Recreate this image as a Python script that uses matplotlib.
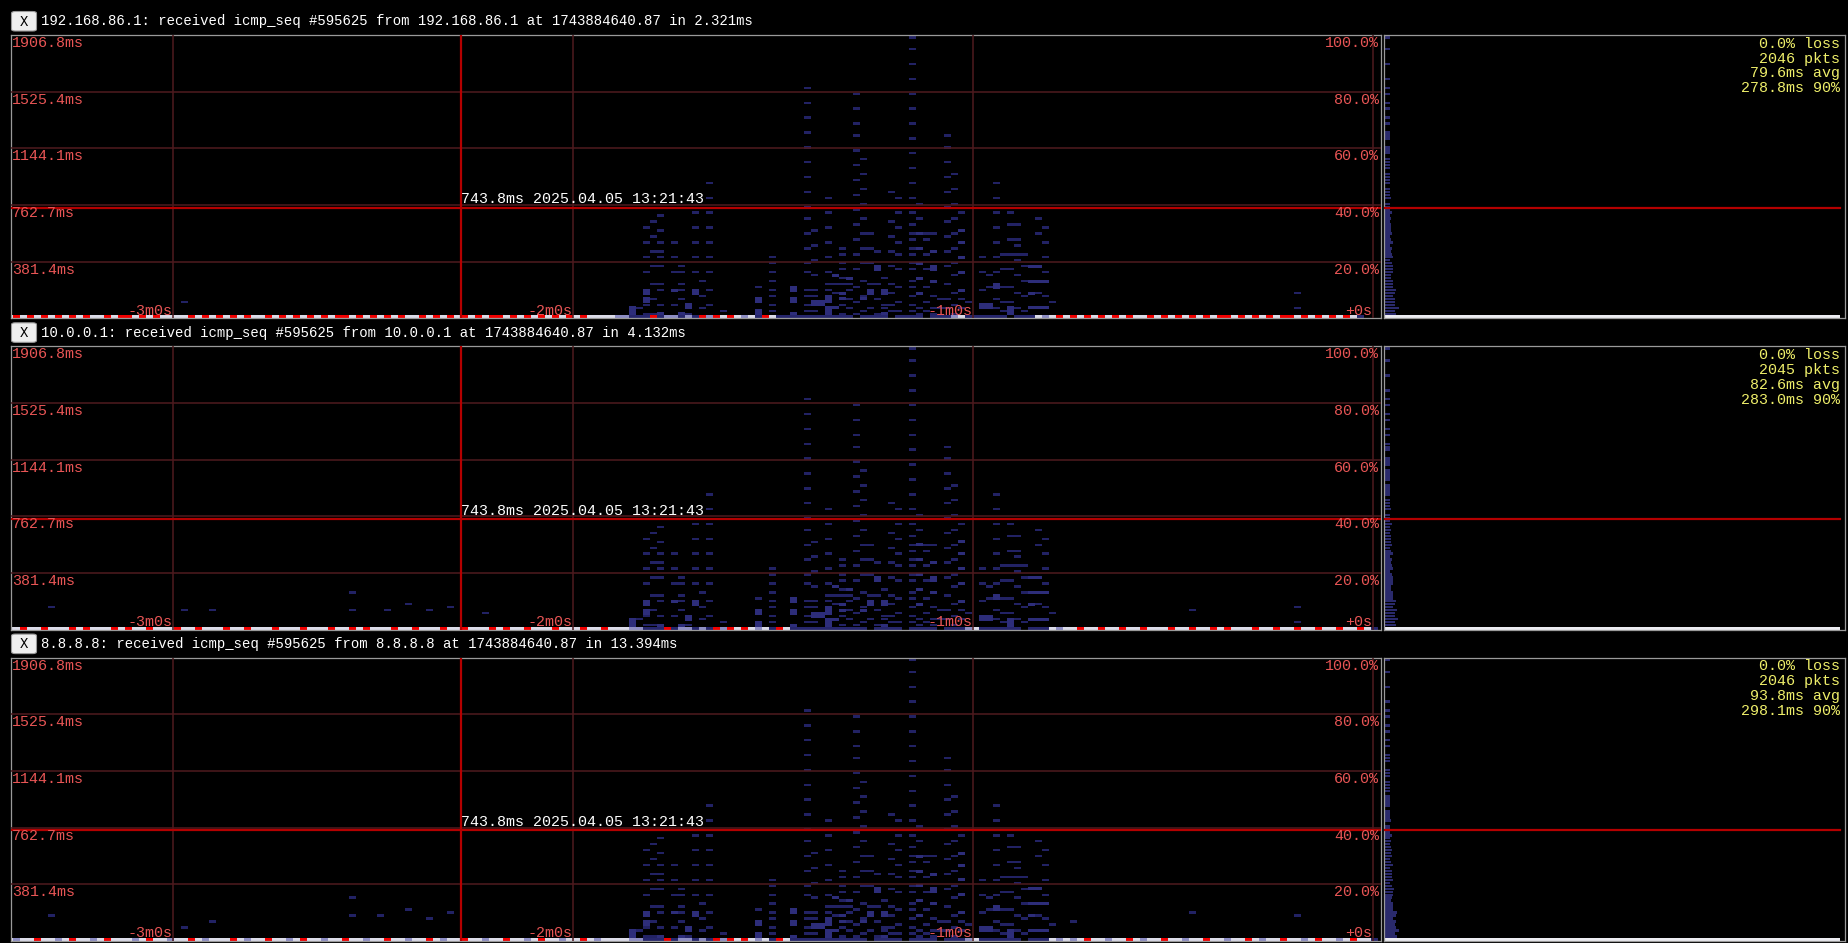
import matplotlib
matplotlib.use("Agg")
import matplotlib.pyplot as plt
import matplotlib.transforms as mtransforms
from matplotlib.patches import FancyBboxPatch
import numpy as np

plt.rcParams['font.family'] = ['Liberation Mono', 'DejaVu Sans Mono']

# ---------------------------------------------------------------- data
HEADERS = [
    "192.168.86.1: received icmp_seq #595625 from 192.168.86.1 at 1743884640.87 in 2.321ms",
    "10.0.0.1: received icmp_seq #595625 from 10.0.0.1 at 1743884640.87 in 4.132ms",
    "8.8.8.8: received icmp_seq #595625 from 8.8.8.8 at 1743884640.87 in 13.394ms",
]
STATS = [
    ["0.0% loss", "2046 pkts", "79.6ms avg", "278.8ms 90%"],
    ["0.0% loss", "2045 pkts", "82.6ms avg", "283.0ms 90%"],
    ["0.0% loss", "2046 pkts", "93.8ms avg", "298.1ms 90%"],
]
Y_MAX_MS = 1906.8
Y_TICKS_MS = [1906.8, 1525.4, 1144.1, 762.7, 381.4]
Y_TICK_LABELS = ["1906.8ms", "1525.4ms", "1144.1ms", "762.7ms", "381.4ms"]
PCT_LABELS = ["100.0%", "80.0%", "60.0%", "40.0%", "20.0%"]
X_TICKS_S = [-180, -120, -60, 0]
X_TICK_LABELS = ["-3m0s", "-2m0s", "-1m0s", "+0s"]
CURSOR_MS = 743.8
CURSOR_S = -136.8
CURSOR_TEXT = "743.8ms 2025.04.05 13:21:43"

ROW_MS = 20.0          # latency bucket
COL_S = 1.05           # time bucket
COL0_S = -77.95        # left edge of time bucket 0

# single-packet cells: time bucket -> latencies (ms)
HEAT_DIM = {
    -31: [78],
    -30: [602, 501, 400, 300, 98, 38],
    -29: [642, 541, 441, 340, 239, 138, 38],
    -28: [682, 582, 501, 441, 400, 340, 239, 199, 98],
    -26: [501, 400, 300, 98],
    -25: [340, 300, 239, 199, 138],
    -24: [38],
    -23: [702, 602, 501, 400, 300],
    -22: [259, 159, 78],
    -21: [904, 803, 702, 602, 501, 400, 300, 199, 98],
    -19: [58],
    -14: [219],
    -12: [400, 360, 300, 259, 199, 159, 98, 58],
    -7: [1549, 1448, 1347, 1246, 1146, 1045, 944, 843, 743, 663, 562, 461, 360, 300, 199, 159, 98, 58],
    -6: [582, 481, 380, 280, 199, 159, 58],
    -4: [803, 702, 602, 501, 400, 300, 239, 199],
    -3: [221, 161],
    -2: [463, 423, 362, 322, 261, 221, 82, 38],
    -1: [221, 183, 138, 78],
    0: [1508, 1408, 1307, 1226, 1125, 1025, 924, 823, 722, 622, 521, 420, 320, 219, 118, 38],
    1: [1065, 964, 864, 763, 662, 561, 461, 360, 259, 159, 58],
    2: [561, 461, 362, 221, 78],
    3: [441, 239, 138, 27],
    4: [261, 98, 78],
    5: [843, 642, 541, 441, 340, 239, 161, 98, 58],
    6: [803, 702, 602, 501, 420, 320, 219, 118, 58],
    8: [1895, 1810, 1710, 1609, 1508, 1408, 1307, 1206, 1105, 1005, 904, 803, 702, 622, 561,
        521, 461, 420, 360, 320, 259, 219, 159, 98, 58],
    9: [763, 662, 78, 38],
    10: [561, 521, 420, 320, 219, 118, 58],
    11: [561, 159, 78, 38],
    12: [138, 78],
    13: [1226, 1146, 1045, 944, 843, 743, 642, 541, 441, 340, 239, 138, 78],
    14: [964, 864, 763, 662, 561, 461, 360, 280, 179, 98, 38],
    15: [702, 138, 78],
    16: [118],
    18: [400, 300, 199],
    19: [280, 219],
    20: [904, 803, 702, 602, 501, 400, 300, 138, 78],
    21: [420, 320, 219, 118, 58],
    22: [702, 622, 521, 420, 320, 219, 118],
    23: [622, 521, 481, 420, 380, 280, 179, 78],
    24: [420, 340, 259, 159, 58],
    26: [662, 561, 179],
    27: [602, 501, 400, 300, 159],
    28: [118],
}
# multi-packet (brighter) cells
HEAT_BRIGHT = {
    -32: [78, 58, 38],
    -30: [199, 179, 138, 118],
    -28: [38],
    -26: [199],
    -25: [38],
    -24: [98, 78],
    -23: [199, 179],
    -14: [138, 118, 58, 38],
    -9: [219, 199, 138, 118, 38],
    -6: [118, 98],
    -5: [118, 98],
    -4: [159, 138, 118, 78, 58, 38],
    -3: [284, 60],
    -2: [161, 130],
    -1: [279],
    1: [138],
    2: [181, 161],
    3: [340, 320],
    4: [194, 160, 38],
    9: [572, 466, 373, 273, 172],
    11: [451, 345, 330, 253, 240],
    15: [582, 501, 400, 300, 199],
    18: [98, 78],
    19: [98, 78],
    20: [239, 219],
    22: [78, 58, 38],
    25: [345, 253, 179, 78],
    26: [345, 253, 78],
    27: [253, 78],
}
# panel specific isolated cells
EXTRA = [
    {-96: [100], 63: [163, 60]},
    {-115: [147], -96: [123], -92: [123], -72: [242, 123], -67: [123], -64: [168],
     -61: [123], -58: [156], -53: [100], 48: [123], 63: [156, 50]},
    {-115: [170], -96: [99], -92: [123], -72: [281, 179], -68: [179], -64: [203],
     -61: [148], -58: [185], 31: [123], 48: [185], 63: [170]},
]
# lowest latency bucket per time bucket (R=red, W=white, L=lavender, N=navy, .=empty)
STRIP_FIRST_COL = -121
BURST_STRIP = "WWLLNNNRNLLNLNRLRWRWLWNRWNNNNNNNNNNN.NNNN.NNNN.NNNLWNNNNNN.NNNW"
STRIPS = [
    "WRWRWRWRWRWRW" + "WRWRRWRWRWWWWRWR"
    + "WRWRWRWWRWRWRWRWRWRRWRWRWRWRWWRWRWRWRWRWRRWRWRWRWRWRWRWW"
    + BURST_STRIP
    + "LWRWRWRWRWRWRWWRWRWRWRWRWRRWRWRWRWRRWRWRWRWRWN",
    "WWRWWRWWWRWRWWWRWRWWRWWWRWWRWWWRWWRWWWRWWWRWWWRWWRWRWWWRWWRWWWRWWRWWWRWRWWRWWWRWWWRWWRW"
    + BURST_STRIP
    + "LWWRWWRWWRWWRWWWRWWRWWRWRWWWRWWRWWRWWRWWRWWRWN",
    "WLWWRWWLWRWWLWRWWWLWRWWLWWRWLWWWRWLWWRWWLWRWWLWWRWWLWWRWWLWWRWLWWRWWLWWRWWLWRWWLWWRWLWW"
    + BURST_STRIP
    + "LWLWRWWLWWRWLWWRWWLWWRWWLWWRWLWWRWWLWRWWLWRWWN",
]
STRIP_COLORS = {'R': '#f20000', 'W': '#dcdce9', 'L': '#8e8ec4', 'N': '#26266c'}
STRIP_COUNTS = {'R': 11, 'W': 10, 'L': 6, 'N': 2}

# ---------------------------------------------------------------- layout
W, H, DPI = 1849, 943, 100
PANEL_TOPS = [35.0, 346.3, 657.6]
PANEL_H = 283.3
HEAT_X0, HEAT_X1 = 11.0, 1381.0
HIST_X0, HIST_X1 = 1384.0, 1845.0
ZERO_PX = 1373.0
PX_PER_S = 400.0 / 60.0

BG = '#000000'
SPINE = '#9a9a9a'
GRID = '#4e1a1e'
CURSOR = '#b40000'
LABEL = '#e85555'
YELLOW = '#eeee6a'
DIM = '#222264'
BRIGHT = '#2d2d7a'
HIST_BAR = '#2a2a6c'
FS = 10.85

fig = plt.figure(figsize=(W / DPI, H / DPI), dpi=DPI, facecolor=BG)


def add_ax(x0, y0, x1, y1):
    return fig.add_axes([x0 / W, 1 - y1 / H, (x1 - x0) / W, (y1 - y0) / H])


def fig_xy(x, y):
    return x / W, 1 - y / H


for p in range(3):
    top = PANEL_TOPS[p]
    bot = top + PANEL_H

    # ---- header
    bx0, by0 = fig_xy(11.5, top - 4.0)
    bx1, by1 = fig_xy(36.5, top - 23.5)
    box = FancyBboxPatch((bx0, by0), bx1 - bx0, by1 - by0,
                         boxstyle="round,pad=0,rounding_size=0.002",
                         transform=fig.transFigure, facecolor='#efefef',
                         edgecolor='#9a9a9a', linewidth=0.8)
    fig.patches.append(box)
    fig.text(*fig_xy(24.0, top - 13.5), "X", color='black', fontsize=10,
             ha='center', va='center')
    fig.text(*fig_xy(41.0, top - 13.5), HEADERS[p], color='white', fontsize=10.05,
             ha='left', va='center')

    # ---- heat map axes
    ax = add_ax(HEAT_X0, top, HEAT_X1, bot)
    ax.set_facecolor(BG)
    ax.set_xlim((HEAT_X0 - ZERO_PX) / PX_PER_S, (HEAT_X1 - ZERO_PX) / PX_PER_S)
    ax.set_ylim(0, Y_MAX_MS)
    ax.set_xticks([])
    ax.set_yticks([])
    for s in ax.spines.values():
        s.set_color(SPINE)
        s.set_linewidth(0.9)

    cells = {}
    for n, lats in HEAT_DIM.items():
        for L in lats:
            cells[(n, int(L // ROW_MS))] = (DIM, 1)
    for n, lats in EXTRA[p].items():
        for L in lats:
            cells[(n, int(L // ROW_MS))] = (DIM, 1)
    for n, lats in HEAT_BRIGHT.items():
        for L in lats:
            cells[(n, int(L // ROW_MS))] = (BRIGHT, 2)
    for i, ch in enumerate(STRIPS[p]):
        if ch in STRIP_COLORS:
            cells[(STRIP_FIRST_COL + i, 0)] = (STRIP_COLORS[ch], STRIP_COUNTS[ch])

    keys = list(cells.keys())
    xs = np.array([COL0_S + k[0] * COL_S for k in keys])
    rows = np.array([k[1] for k in keys])
    cols = [cells[k][0] for k in keys]
    cnts = np.array([cells[k][1] for k in keys])
    full = (rows == 0) | (cnts >= 2)
    bottoms = np.where(full, rows * ROW_MS, rows * ROW_MS + 2.5)
    heights = np.where(full, ROW_MS, ROW_MS - 3.5)
    ax.bar(xs, heights, width=COL_S, bottom=bottoms, align='edge', color=cols,
           linewidth=0, antialiased=False, zorder=2)

    # grid
    for v in Y_TICKS_MS[1:]:
        ax.axhline(v, color=GRID, lw=1.3, alpha=0.85, zorder=3)
    for t in X_TICKS_S:
        ax.axvline(t, color=GRID, lw=1.3, alpha=0.85, zorder=3)

    # cursor
    ax.axhline(CURSOR_MS, color=CURSOR, lw=1.6, zorder=5)
    ax.axvline(CURSOR_S, color=CURSOR, lw=1.6, zorder=5)
    ax.text(CURSOR_S, CURSOR_MS, CURSOR_TEXT, color='white', fontsize=FS,
            ha='left', va='baseline', zorder=7,
            transform=mtransforms.offset_copy(ax.transData, fig=fig, x=0, y=4.5, units='dots'))

    # labels
    bl = mtransforms.blended_transform_factory(ax.transAxes, ax.transData)
    for v, lab, pct in zip(Y_TICKS_MS, Y_TICK_LABELS, PCT_LABELS):
        ax.text(0, v, lab, color=LABEL, fontsize=FS, ha='left', va='top', zorder=7,
                transform=mtransforms.offset_copy(bl, fig=fig, x=1.0, y=-1.0, units='dots'))
        ax.text(1, v, pct, color=LABEL, fontsize=FS, ha='right', va='top', zorder=7,
                transform=mtransforms.offset_copy(bl, fig=fig, x=-2.0, y=-1.0, units='dots'))
    bx = mtransforms.blended_transform_factory(ax.transData, ax.transAxes)
    for t, lab in zip(X_TICKS_S, X_TICK_LABELS):
        ax.text(t, 0, lab, color=LABEL, fontsize=FS, ha='right', va='baseline', zorder=7,
                transform=mtransforms.offset_copy(bx, fig=fig, x=-1.0, y=3.5, units='dots'))

    # ---- histogram axes
    hx = add_ax(HIST_X0, top, HIST_X1, bot)
    hx.set_facecolor(BG)
    hx.set_xticks([])
    hx.set_yticks([])
    for s in hx.spines.values():
        s.set_color(SPINE)
        s.set_linewidth(0.9)
    hx.set_ylim(0, Y_MAX_MS)
    nrows = int(np.ceil(Y_MAX_MS / ROW_MS))
    hist = np.bincount(rows, weights=cnts, minlength=nrows)
    cmax = hist.max()
    inner = (HIST_X1 - 5.0) - (HIST_X0 + 1.0)
    pad = 4.5 * cmax / (inner - 4.5)
    u = (cmax + pad) / inner
    hx.set_xlim(-pad - 1.0 * u, cmax + 5.0 * u)
    rr = np.nonzero(hist)[0]
    others = rr[rr > 0]
    hx.barh(others * ROW_MS + 2.5, hist[others] + pad, height=ROW_MS - 3.5, left=-pad,
            align='edge', color=HIST_BAR, linewidth=0, antialiased=False, zorder=2)
    hx.barh([0.0], [hist[0] + pad], height=ROW_MS, left=-pad, align='edge',
            color='#ececf2', linewidth=0, antialiased=False, zorder=2)
    hx.axhline(CURSOR_MS, xmin=1.0 / 461, xmax=456.0 / 461, color=CURSOR, lw=1.6, zorder=5)
    for i, line in enumerate(STATS[p]):
        hx.text(1, 1, line, color=YELLOW, fontsize=FS, ha='right', va='top', zorder=7,
                transform=mtransforms.offset_copy(hx.transAxes, fig=fig, x=-5.0,
                                                  y=-1.5 - 15.0 * i, units='dots'))

fig.savefig("out.png", dpi=DPI, facecolor=BG)
